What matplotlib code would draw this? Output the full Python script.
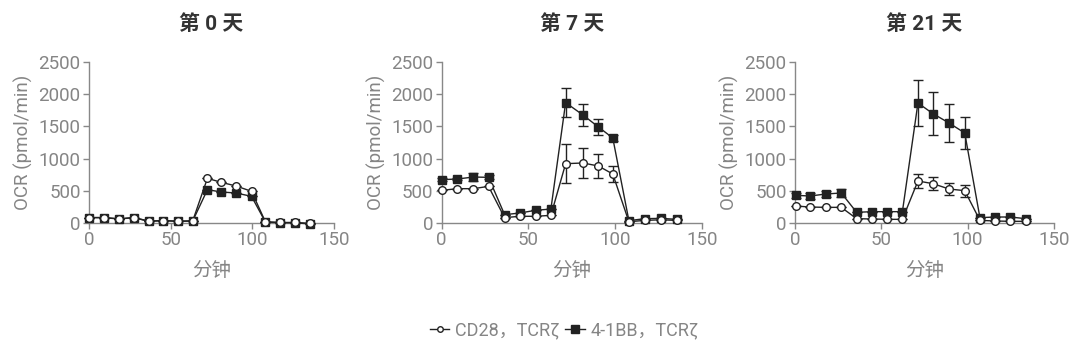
import matplotlib
matplotlib.use("Agg")
import matplotlib.pyplot as plt
from matplotlib.lines import Line2D

plt.rcParams['font.family'] = ['Roboto', 'Noto Sans CJK SC', 'DejaVu Sans']

titles = ["第 0 天", "第 7 天", "第 21 天"]
xlabel = "分钟"
ylabel = "OCR (pmol/min)"
legend_labels = ["CD28，TCRζ", "4-1BB，TCRζ"]

t_day0 = [0, 9, 18.5, 27.5, 36.5, 45.5, 54.5, 63.5, 72.5, 81, 90, 99.5, 108, 117, 126, 135]
t_day7 = [0, 9, 18.3, 27, 36.3, 45, 54.2, 63, 71.5, 81.5, 90.4, 98.7, 108, 117, 126.3, 135.6]
t_day21 = [0.4, 8.7, 17.8, 26.8, 35.7, 44.8, 53.5, 62.2, 71.2, 79.9, 89.2, 98.3, 107.1, 115.8, 124.7, 133.8]

cd28_day0 = [85, 85, 65, 85, 30, 38, 28, 33, 694, 631, 575, 492, 18, 8, 8, -5]
bb_day0 = [83, 83, 62, 83, 26, 36, 26, 31, 518, 481, 466, 414, 16, 5, 5, -15]
cd28_day0_err = [0] * 16
bb_day0_err = [0] * 16

cd28_day7 = [507, 533, 533, 569, 83, 104, 104, 119, 921, 932, 885, 761, 20, 40, 50, 40]
cd28_day7_err = [0, 0, 0, 0, 0, 0, 0, 0, 300, 235, 190, 125, 0, 0, 0, 0]
bb_day7 = [673, 683, 714, 709, 129, 155, 197, 217, 1869, 1677, 1491, 1320, 36, 67, 72, 57]
bb_day7_err = [20, 20, 60, 30, 0, 0, 0, 0, 220, 165, 120, 40, 0, 0, 0, 0]

cd28_day21 = [264, 248, 243, 243, 67, 62, 57, 57, 652, 611, 528, 502, 41, 31, 26, 26]
cd28_day21_err = [0, 0, 0, 0, 0, 0, 0, 0, 105, 100, 90, 95, 0, 0, 0, 0]
bb_day21 = [430, 419, 450, 466, 166, 176, 176, 176, 1863, 1698, 1553, 1398, 83, 93, 93, 67]
bb_day21_err = [40, 50, 40, 60, 0, 0, 0, 0, 357, 330, 290, 255, 0, 0, 0, 0]

panels = [
    (t_day0, cd28_day0, cd28_day0_err, bb_day0, bb_day0_err),
    (t_day7, cd28_day7, cd28_day7_err, bb_day7, bb_day7_err),
    (t_day21, cd28_day21, cd28_day21_err, bb_day21, bb_day21_err),
]

W, H = 1080, 352
fig = plt.figure(figsize=(W / 100, H / 100), dpi=100)
boxes = [(89, 245), (441.7, 260), (795, 259)]
top_px, bot_px = 62, 223

grey = '#858585'
dark = '#222222'

for (left, width), title, (t, c, ce, b, be) in zip(boxes, titles, panels):
    ax = fig.add_axes([left / W, 1 - bot_px / H, width / W, (bot_px - top_px) / H])
    ax.errorbar(t, b, yerr=be, color=dark, lw=1.0, marker='s', ms=5.5,
                mfc=dark, mec=dark, capsize=3.5, elinewidth=1.0, capthick=1.0, zorder=3)
    ax.errorbar(t, c, yerr=ce, color=dark, lw=1.0, marker='o', ms=5.5,
                mfc='white', mec=dark, mew=1.0, capsize=3.5, elinewidth=1.0, capthick=1.0, zorder=4)
    ax.set_xlim(0, 150)
    ax.set_ylim(0, 2500)
    ax.set_xticks([0, 50, 100, 150])
    ax.set_yticks([0, 500, 1000, 1500, 2000, 2500])
    for s in ['top', 'right']:
        ax.spines[s].set_visible(False)
    for s in ['left', 'bottom']:
        ax.spines[s].set_color('#888888')
        ax.spines[s].set_linewidth(1.0)
    ax.tick_params(colors='#888888', labelcolor=grey, labelsize=13.5, length=4, width=1.0, pad=2)
    ax.set_xlabel(xlabel, color=grey, fontsize=14, labelpad=9)
    ax.set_ylabel(ylabel, color=grey, fontsize=13.5, labelpad=4)
    ax.set_title(title, color='#333333', fontsize=15, fontweight='bold', pad=23)
    for art in ax.get_children():
        try:
            art.set_clip_on(False)
        except Exception:
            pass

handles = [
    Line2D([], [], color=dark, lw=1.0, marker='o', ms=4, mfc='white', mec=dark),
    Line2D([], [], color=dark, lw=1.0, marker='s', ms=6, mfc=dark, mec=dark),
]
fig.legend(handles, legend_labels, loc='center', bbox_to_anchor=(564 / W, 1 - 330 / H),
           ncol=2, frameon=False, fontsize=13, handlelength=1.1, handletextpad=0.3,
           columnspacing=0.3, labelcolor=grey)

fig.savefig('out.png', dpi=100, facecolor='white')
